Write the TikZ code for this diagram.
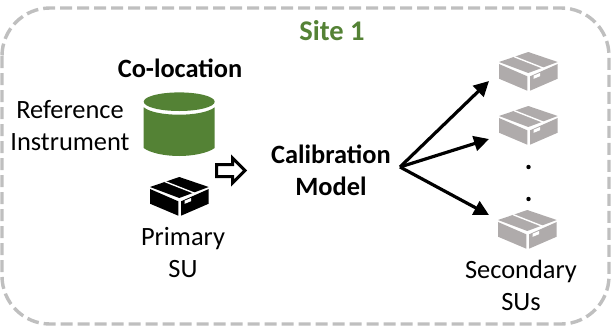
\documentclass[tikz,border=0pt]{standalone}
\usepackage{fontspec}
\setmainfont{Carlito}
\usetikzlibrary{arrows.meta}
\definecolor{grn}{HTML}{548235}
\definecolor{gry}{HTML}{BFBFBF}
\definecolor{boxg}{HTML}{AFABAB}
\tikzset{
 lab/.style={font=\fontsize{26.4}{32}\selectfont,align=center,text=black,inner sep=0pt},
 blab/.style={lab,font=\fontsize{26.4}{32}\selectfont\bfseries},
 flow/.style={line width=3.2pt,-{Triangle[length=15pt,width=15pt]}},
 pics/cargo/.style={code={
  \fill[#1] (0,10)--(29.3,0)--(58.7,10)--(29.3,21)--cycle;
  \draw[white,line width=1.4pt] (15,4.6)--(44.5,16.2);
  \fill[#1] (0,12)--(28.3,24.3)--(28.3,38.7)--(0,26.7)--cycle;
  \fill[#1] (31,24.3)--(58.7,12)--(58.7,26.7)--(31,38.7)--cycle;
  \fill[white] (34.5,23.7)--(41,21)--(41,24.2)--(34.5,26.9)--cycle;
 }}
}
\begin{document}
\begin{tikzpicture}[x=1pt,y=-1pt]
\useasboundingbox (0,0) rectangle (612,327);
\draw[gry,line width=3.4pt,dash pattern=on 12pt off 5pt,rounded corners=48pt] (2,8) rectangle (609,324);
\node[lab,font=\fontsize{28.5}{34}\selectfont\bfseries,text=grn] (site) at (332,31) {Site 1};
\node[blab] (coloc) at (180,68) {Co-location};
\node[lab] (ref) at (70,126) {Reference\\Instrument};
\node[lab] (prim) at (183,253) {Primary\\SU};
\node[blab] (cal) at (331,170) {Calibration\\Model};
\node[lab] (sec) at (521,285) {Secondary\\SUs};
% cylinder
\fill[grn] (179.2,101.7) ellipse[x radius=35.5,y radius=9.3];
\fill[grn] (143.7,107.3) .. controls (150,112.5) and (165,114.7) .. (179.2,114.7) .. controls (193,114.7) and (208,112.5) .. (214.7,107.3) -- (214.7,148) .. controls (208,153) and (193,156) .. (179.2,156) .. controls (165,156) and (150,153) .. (143.7,148) -- cycle;
% hollow arrow
\draw[black,line width=3pt,fill=white,miter limit=5,line join=miter] (216.5,164.5)--(232.5,164.5)--(232.5,158)--(245,170.5)--(232.5,183)--(232.5,176.5)--(216.5,176.5)--cycle;
\pic at (150,177) {cargo=black};
\coordinate (hub) at (400,167);
\coordinate (b1) at (499,52);
\coordinate (b2) at (499,106);
\coordinate (b3) at (498,210);
\pic at (b1) {cargo=boxg};
\pic at (b2) {cargo=boxg};
\pic at (b3) {cargo=boxg};
\fill (528.5,167) circle (2.2pt);
\fill (528.5,199) circle (2.2pt);
\coordinate (t1) at (489,81);
\coordinate (t2) at (489,139);
\coordinate (t3) at (489,215);
\draw[flow] (hub) -- (t1);
\draw[flow] (hub) -- (t2);
\draw[flow] (hub) -- (t3);
\end{tikzpicture}
\end{document}
